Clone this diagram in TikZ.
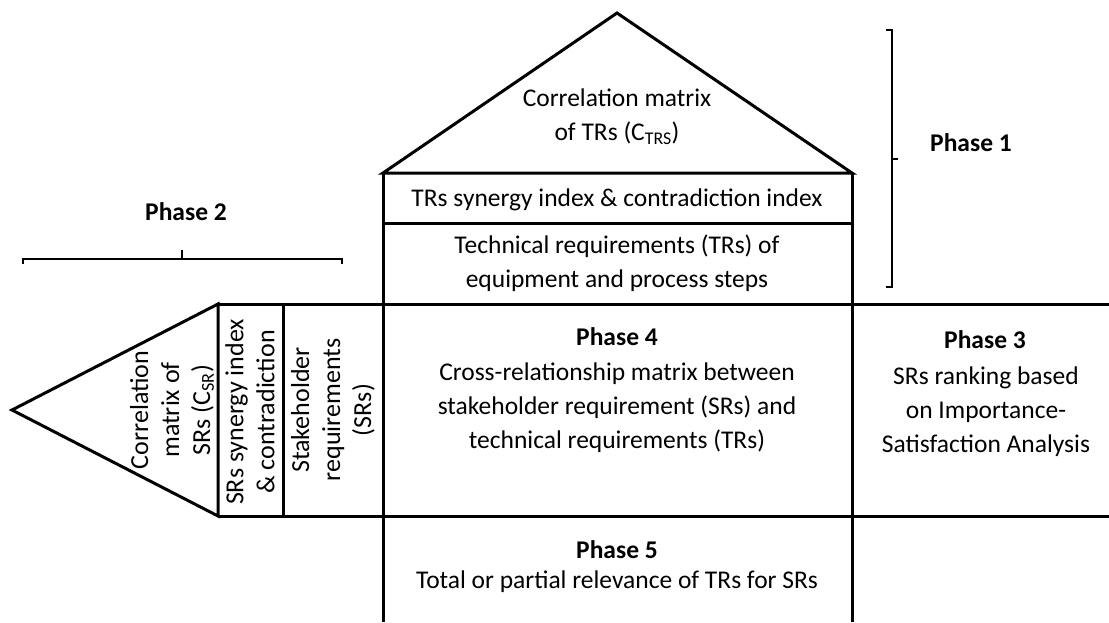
\documentclass[tikz,border=0pt]{standalone}
\usepackage{fontspec}
\setmainfont{Carlito}
\begin{document}
\begin{tikzpicture}[x=1pt,y=-1pt]
\tikzset{
  wall/.style={line width=3pt},
  brace/.style={line width=2pt},
  txt/.style={align=center,inner sep=0pt,font=\fontsize{25.5}{34}\selectfont},
  vtxt/.style={align=center,inner sep=0pt,rotate=90,font=\fontsize{26}{31}\selectfont},
  ttl/.style={inner sep=0pt,font=\fontsize{25.5}{34}\selectfont\bfseries},
}
\useasboundingbox (0,0) rectangle (1109,622);

% roof and walls
\draw[wall] (383,173) -- (617,13) -- (852,173) -- cycle;
\draw[wall] (383,173) -- (383,622);
\draw[wall] (852,173) -- (852,622);
\draw[wall] (383,223) -- (852,223);
\draw[wall] (218,304) -- (1109,304);
\draw[wall] (218,516) -- (1109,516);

% left side
\draw[wall] (218,304) -- (12,410) -- (218,516) -- cycle;
\draw[wall] (283,304) -- (283,516);

% brackets
\draw[brace] (886,30) -- (892,30) -- (892,287) -- (886,287);
\draw[brace] (892,159) -- (898,159);
\draw[brace] (23,264) -- (23,259) -- (342,259) -- (342,264);
\draw[brace] (182,259) -- (182,250);

\node[ttl] (p1) at (971,143) {Phase 1};
\node[ttl] (p2) at (186,212) {Phase 2};

% top part
\node[txt] (roof) at (617,117) {Correlation matrix\\of TRs (C\textsubscript{TRS})};
\node[txt] (trsyn) at (617,200) {TRs synergy index \& contradiction index};
\node[txt] (trs) at (617,263) {Technical requirements (TRs) of\\equipment and process steps};

% centre
\node[ttl] (p4) at (617,337) {Phase 4};
\node[txt] (cross) at (617,408) {Cross-relationship matrix between\\stakeholder requirement (SRs) and\\technical requirements (TRs)};

% right
\node[ttl] (p3) at (985,340) {Phase 3};
\node[txt] (rank) at (986,412) {SRs ranking based\\on Importance-\\Satisfaction Analysis};

% bottom
\node[ttl] (p5) at (617,550) {Phase 5};
\node[txt] (relev) at (617,582) {Total or partial relevance of TRs for SRs};

% left rotated texts
\node[vtxt] (csr) at (172,410) {Correlation\\matrix of\\SRs (C\textsubscript{SR})};
\node[vtxt] (srsyn) at (250,412) {SRs synergy index\\\& contradiction};
\node[vtxt] (srs) at (333,410) {Stakeholder\\requirements\\(SRs)};
\end{tikzpicture}
\end{document}
